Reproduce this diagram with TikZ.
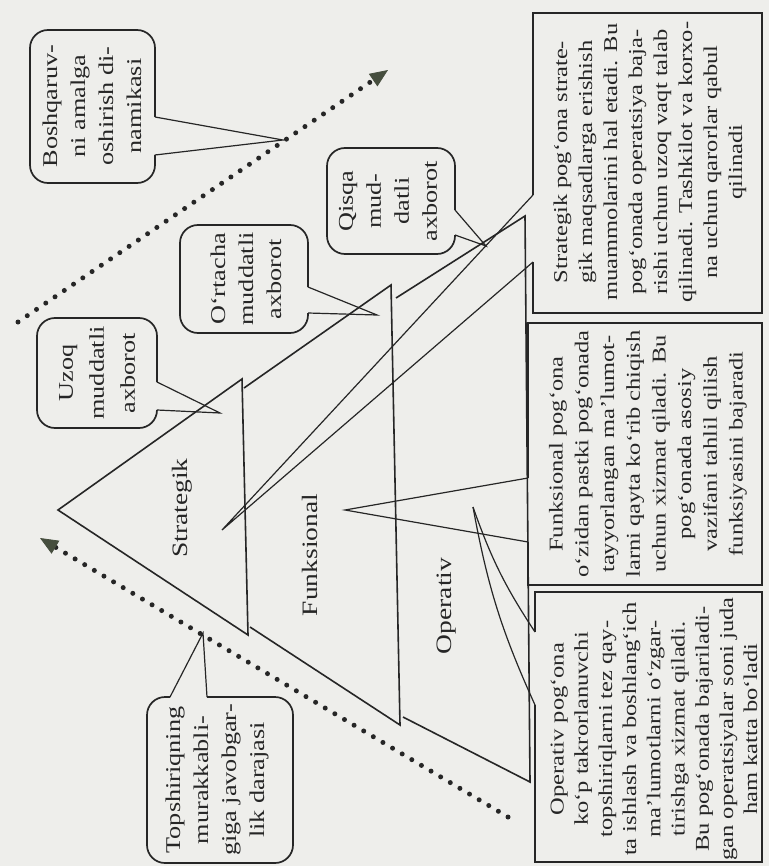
\documentclass[tikz,border=0pt]{standalone}
\usepackage{fontspec}
\setmainfont[FakeStretch=1.25]{Liberation Serif}
\usetikzlibrary{arrows.meta}
\definecolor{bg}{RGB}{238,238,235}
\definecolor{ink}{RGB}{38,38,38}
\definecolor{tipc}{RGB}{70,78,62}
\begin{document}
\begin{tikzpicture}[x=0.5pt,y=-0.5pt,
  pyr/.style={draw=ink, line width=0.8pt},
  boxline/.style={draw=ink, line width=0.85pt},
  callline/.style={draw=ink, line width=0.85pt, rounded corners=9pt},
  ptr/.style={draw=ink, line width=0.6pt},
  dotline/.style={draw=black!85, line width=2.5pt, line cap=round, dash pattern=on 0pt off 5.6pt,
    -{Triangle[length=9pt,width=7.5pt,line width=0.4pt,fill=tipc,color=tipc]}},
  body/.style={rotate=90, align=center, inner sep=0pt, text=ink},
  ctext/.style={rotate=90, align=center, inner sep=0pt, text=ink, font=\fontsize{10.5}{14}\selectfont},
  lvl/.style={rotate=90, inner sep=0pt, text=ink, font=\fontsize{11}{13}\selectfont}]
\fill[bg] (0,0) rectangle (769,866);
\useasboundingbox (0,0) rectangle (769,866);

% pyramid
\coordinate (A) at (58,510);
\coordinate (s1t) at (242,379); \coordinate (s1b) at (248,635);
\coordinate (f2s) at (244,388); \coordinate (f2t) at (391,285);
\coordinate (f2l) at (250,627); \coordinate (f2b) at (400,725);
\coordinate (o3s) at (396,298); \coordinate (o3t) at (525,216);
\coordinate (o3l) at (403,717); \coordinate (o3b) at (530,782);
\draw[pyr] (A) -- (s1t) -- (s1b) -- cycle;
\draw[pyr] (f2s) -- (f2t) -- (f2b) -- (f2l);
\draw[pyr] (o3s) -- (o3t) -- (o3b) -- (o3l);

\node[lvl] (lstrat) at (182,508) {Strategik};
\node[lvl] (lfunk) at (310,555) {Funksional};
\node[lvl] (loper) at (447,606) {Operativ};

% dotted arrows
\coordinate (d1s) at (18,322); \coordinate (d1e) at (388,70);
\draw[dotline] (d1s) -- (d1e);
\coordinate (d2s) at (508,817); \coordinate (d2e) at (40,538);
\draw[dotline] (d2s) -- (d2e);

% callout: Boshqaruv
\coordinate (bqtip) at (283,140);
\draw[callline] (155,155) -- (155,183) -- (30,183) -- (30,30) -- (155,30) -- (155,117);
\draw[ptr] (155,117) -- (bqtip) -- (155,155);
\node[ctext] (bq) at (92,106) {Boshqaruv-\\ni amalga\\oshirish di-\\namikasi};

% callout: Uzoq
\coordinate (uztip) at (220,413);
\draw[callline] (157,410) -- (157,428) -- (37,428) -- (37,318) -- (157,318) -- (157,382);
\draw[ptr] (157,382) -- (uztip) -- (157,410);
\node[ctext, font=\fontsize{10.5}{15.5}\selectfont] (uz) at (97,373) {Uzoq\\muddatli\\axborot};

% callout: O'rtacha
\coordinate (orttip) at (377,315);
\draw[callline] (308,313) -- (308,333) -- (180,333) -- (180,225) -- (308,225) -- (308,287);
\draw[ptr] (308,287) -- (orttip) -- (308,313);
\node[ctext] (ort) at (246,279) {O‘rtacha\\muddatli\\axborot};

% callout: Qisqa
\coordinate (qstip) at (486,246);
\draw[callline] (455,235) -- (455,254) -- (327,254) -- (327,148) -- (455,148) -- (455,210);
\draw[ptr] (455,210) -- (qstip) -- (455,235);
\node[ctext] (qs) at (388,201) {Qisqa\\mud-\\datli\\axborot};

% callout: Topshiriq
\coordinate (tptip) at (203,633);
\draw[callline] (207,697) -- (293,697) -- (293,863) -- (147,863) -- (147,697) -- (170,697);
\draw[ptr] (170,697) -- (tptip) -- (207,697);
\node[ctext] (tp) at (217,780) {Topshiriqning\\murakkabli-\\giga javobgar-\\lik darajasi};

% text box: Strategik
\coordinate (sttip) at (222,530);
\draw[boxline] (533,262) -- (533,313) -- (762,313) -- (762,13) -- (533,13) -- (533,195);
\draw[ptr] (533,195) -- (sttip) -- (533,262);
\node[body, font=\fontsize{9.8}{12.5}\selectfont] (stb) at (650,162) {Strategik pog‘ona strate-\\gik maqsadlarga erishish\\muammolarini hal etadi. Bu\\pog‘onada operatsiya baja-\\rishi uchun uzoq vaqt talab\\qilinadi. Tashkilot va korxo-\\na uchun qarorlar qabul\\qilinadi};

% text box: Funksional
\coordinate (fktip) at (345,510);
\draw[boxline] (528,542) -- (528,585) -- (762,585) -- (762,323) -- (528,323) -- (528,478);
\draw[ptr] (528,478) -- (fktip) -- (528,542);
\node[body, font=\fontsize{9.8}{12.85}\selectfont] (fkb) at (648,454) {Funksional pog‘ona\\o‘zidan pastki pog‘onada\\tayyorlangan ma’lumot-\\larni qayta ko‘rib chiqish\\uchun xizmat qiladi. Bu\\pog‘onada asosiy\\vazifani tahlil qilish\\funksiyasini bajaradi};

% text box: Operativ
\coordinate (optip) at (473,507);
\draw[boxline] (535,705) -- (535,862) -- (762,862) -- (762,592) -- (535,592) -- (535,632);
\draw[ptr] (optip) to[bend right=7] (535,632);
\draw[ptr] (optip) to[bend right=7] (535,705);
\node[body, font=\fontsize{9.8}{12.1}\selectfont] (opb) at (654,729) {Operativ pog‘ona\\ko‘p takrorlanuvchi\\topshiriqlarni tez qay-\\ta ishlash va boshlang‘ich\\ma’lumotlarni o‘zgar-\\tirishga xizmat qiladi.\\Bu pog‘onada bajariladi-\\gan operatsiyalar soni juda\\ham katta bo‘ladi};
\end{tikzpicture}
\end{document}
